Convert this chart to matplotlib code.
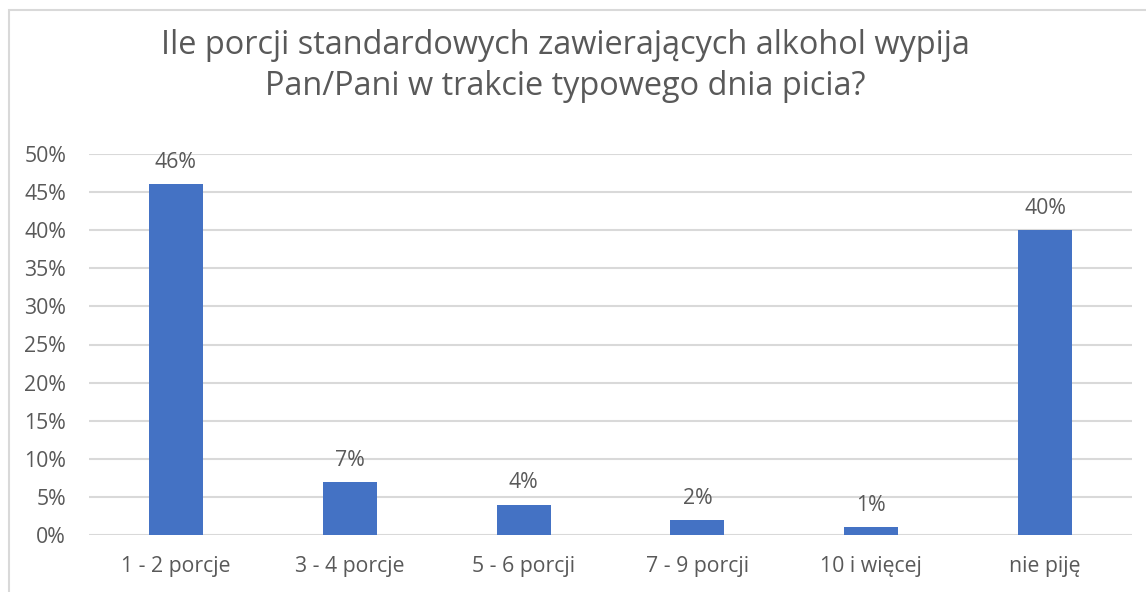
import matplotlib.pyplot as plt
from matplotlib.patches import Rectangle
from matplotlib.ticker import FuncFormatter

categories = ['1 - 2 porcje', '3 - 4 porcje', '5 - 6 porcji', '7 - 9 porcji', '10 i więcej', 'nie piję']
values = [0.46, 0.07, 0.04, 0.02, 0.01, 0.40]
labels = ['46%', '7%', '4%', '2%', '1%', '40%']
yticks = [0, 0.05, 0.10, 0.15, 0.20, 0.25, 0.30, 0.35, 0.40, 0.45, 0.50]

plt.rcParams['font.family'] = ['Open Sans', 'DejaVu Sans']
text_col = '#595959'

fig = plt.figure(figsize=(11.46, 5.92), dpi=100)
W, H = 1146, 592
ax = fig.add_axes([89 / W, 1 - 535 / H, (1132 - 89) / W, (535 - 154) / H])

# ramka wykresu
fig.patches.append(Rectangle((9 / W, -0.1), 1.2, 1 - 10 / H + 0.1, transform=fig.transFigure,
                             fill=False, edgecolor='#d9d9d9', linewidth=1.5))

x = range(len(categories))
bars = ax.bar(x, values, width=0.31, color='#4472C4', zorder=3)
for bar, lab in zip(bars, labels):
    ax.annotate(lab, (bar.get_x() + bar.get_width() / 2, bar.get_height()),
                xytext=(0, 8), textcoords='offset points', ha='center', va='bottom',
                fontsize=15.3, color=text_col)

ax.set_xlim(-0.5, len(categories) - 0.5)
ax.set_ylim(0, 0.5)
ax.set_yticks(yticks)
ax.yaxis.set_major_formatter(FuncFormatter(lambda v, p: f'{v * 100:.0f}%'))
ax.set_xticks(list(x))
ax.set_xticklabels(categories)
ax.tick_params(axis='y', length=0, pad=16.5, labelsize=15.3, labelcolor=text_col)
ax.tick_params(axis='x', length=0, pad=15, labelsize=15.3, labelcolor=text_col)
ax.grid(axis='y', color='#d9d9d9', linewidth=1.5, zorder=0)
for s in ax.spines.values():
    s.set_visible(False)

fig.text(565 / W, 1 - 66 / H, 'Ile porcji standardowych zawierających alkohol wypija\nPan/Pani w trakcie typowego dnia picia?',
         ha='center', va='center', fontsize=23.4, color=text_col, linespacing=1.3)

fig.savefig('out.png', dpi=100, facecolor='white')
